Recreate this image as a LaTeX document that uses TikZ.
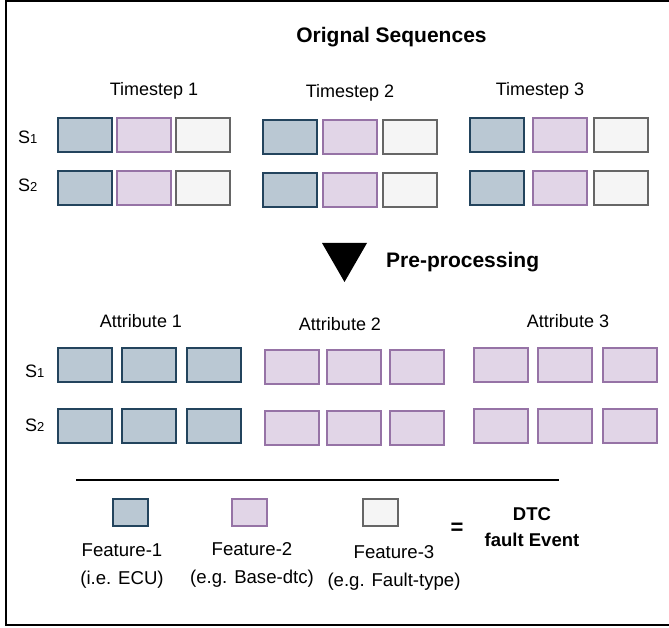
\documentclass[tikz,border=0pt]{standalone}
\usepackage{fontspec}
\setmainfont{Liberation Sans}
\begin{document}
\begin{tikzpicture}[x=1pt,y=-1pt,
  fone/.style={draw=c1d,fill=c1f,line width=2pt,minimum width=54pt,minimum height=34pt,inner sep=0pt},
  ftwo/.style={fone,draw=c2d,fill=c2f},
  fthree/.style={fone,draw=c3d,fill=c3f},
  legend/.style={minimum width=35pt,minimum height=27pt},
  lbl/.style={font=\fontsize{18}{22}\selectfont,inner sep=0pt,anchor=base},
  slbl/.style={font=\fontsize{18}{22}\selectfont,inner sep=0pt,anchor=base west},
  head/.style={font=\fontsize{21}{25}\bfseries\selectfont,inner sep=0pt},
  legtxt/.style={font=\fontsize{18.6}{28}\selectfont,inner sep=0pt,align=center}
]
\definecolor{c1d}{HTML}{23445D}\definecolor{c1f}{HTML}{BAC8D3}
\definecolor{c2d}{HTML}{9673A6}\definecolor{c2f}{HTML}{E1D5E7}
\definecolor{c3d}{HTML}{666666}\definecolor{c3f}{HTML}{F5F5F5}
\newcommand{\sub}[1]{S{\fontsize{13}{13}\selectfont #1}}
\clip (0,0) rectangle (669,628);
\fill[white] (0,0) rectangle (669,628);
% frame
\draw[line width=2pt] (700,1) -- (6,1) -- (6,624.5) -- (700,624.5);

% title
\node[head,anchor=base] (title) at (391.5,43) {Orignal Sequences};

% timestep labels
\node[lbl] (ts1) at (154,96) {Timestep 1};
\node[lbl] (ts2) at (350,98) {Timestep 2};
\node[lbl] (ts3) at (540,96) {Timestep 3};
\node[slbl] (s1top) at (18,144) {\sub{1}};
\node[slbl] (s2top) at (18,192) {\sub{2}};

% timestep 1
\node[fone]   (t1a) at (85,135) {};
\node[ftwo]   (t1b) at (144,135) {};
\node[fthree] (t1c) at (203,135) {};
\node[fone]   (t1d) at (85,188.5) {};
\node[ftwo]   (t1e) at (144,188.5) {};
\node[fthree] (t1f) at (203,188.5) {};
% timestep 2
\node[fone]   (t2a) at (290,137) {};
\node[ftwo]   (t2b) at (350,137) {};
\node[fthree] (t2c) at (410,137) {};
\node[fone]   (t2d) at (290,190) {};
\node[ftwo]   (t2e) at (350,190) {};
\node[fthree] (t2f) at (410,190) {};
% timestep 3
\node[fone]   (t3a) at (496.5,135) {};
\node[ftwo]   (t3b) at (560,135) {};
\node[fthree] (t3c) at (620.5,135) {};
\node[fone]   (t3d) at (496.5,188.5) {};
\node[ftwo]   (t3e) at (560,188.5) {};
\node[fthree] (t3f) at (620.5,188.5) {};

% pre-processing
\fill (322,243) -- (367,243) -- (344.5,282) -- cycle;
\node[head,anchor=base west] (pre) at (386,268) {Pre-processing};

% attribute labels
\node[lbl] (at1) at (141,327) {Attribute 1};
\node[lbl] (at2) at (340,330) {Attribute 2};
\node[lbl] (at3) at (568,327) {Attribute 3};
\node[slbl] (s1bot) at (25,377) {\sub{1}};
\node[slbl] (s2bot) at (25,431) {\sub{2}};

% attribute 1
\node[fone] (a1a) at (85,365) {};
\node[fone] (a1b) at (148.5,365) {};
\node[fone] (a1c) at (213.5,365) {};
\node[fone] (a1d) at (85,425.5) {};
\node[fone] (a1e) at (148.5,425.5) {};
\node[fone] (a1f) at (213.5,425.5) {};
% attribute 2
\node[ftwo] (a2a) at (291.5,366.5) {};
\node[ftwo] (a2b) at (354,366.5) {};
\node[ftwo] (a2c) at (417,366.5) {};
\node[ftwo] (a2d) at (291.5,427.5) {};
\node[ftwo] (a2e) at (354,427.5) {};
\node[ftwo] (a2f) at (417,427.5) {};
% attribute 3
\node[ftwo] (a3a) at (500.5,365) {};
\node[ftwo] (a3b) at (564.5,365) {};
\node[ftwo] (a3c) at (629.5,365) {};
\node[ftwo] (a3d) at (500.5,425.5) {};
\node[ftwo] (a3e) at (564.5,425.5) {};
\node[ftwo] (a3f) at (629.5,425.5) {};

% separator
\coordinate (sepL) at (76,480);
\coordinate (sepR) at (559,480);
\draw[line width=1.5pt] (sepL) -- (sepR);

% legend
\node[fone,legend]   (l1) at (130.5,512.5) {};
\node[ftwo,legend]   (l2) at (249,512.5) {};
\node[fthree,legend] (l3) at (380.5,512.5) {};
\node[legtxt] (l1t) at (122,566.5) {Feature-1\\(i.e. ECU)};
\node[legtxt] (l2t) at (252,564.5) {Feature-2\\(e.g. Base-dtc)};
\node[legtxt] (l3t) at (394,568) {Feature-3\\(e.g. Fault-type)};
\node[font=\fontsize{22}{22}\bfseries\selectfont,inner sep=0pt] (eq) at (457,529) {=};
\node[font=\fontsize{18.5}{26}\bfseries\selectfont,inner sep=0pt,align=center] (dtc) at (532,527.5) {DTC\\fault Event};
\end{tikzpicture}
\end{document}
